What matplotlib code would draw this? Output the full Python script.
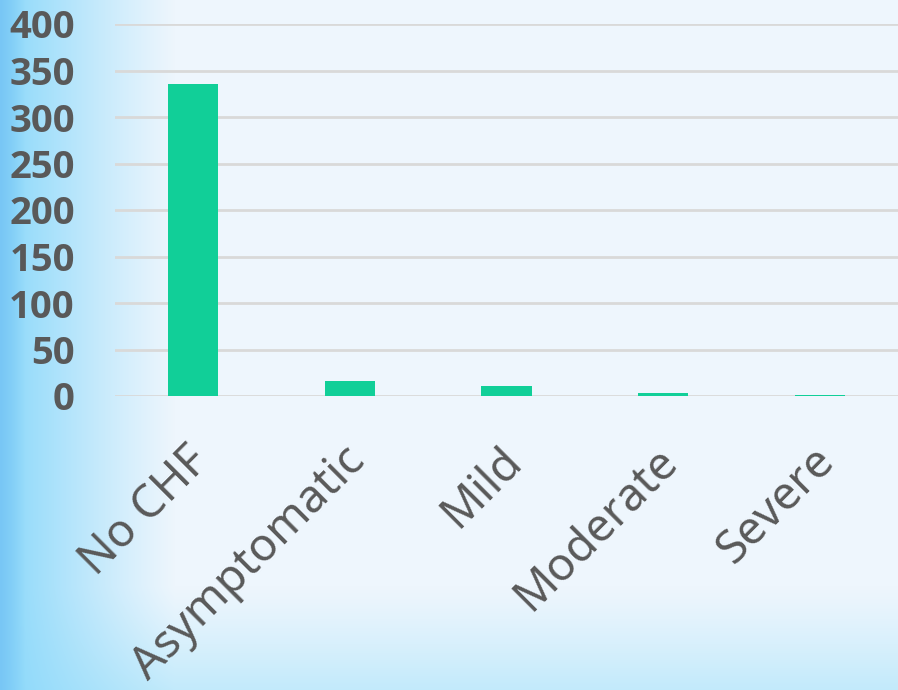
import numpy as np
import matplotlib.pyplot as plt
import matplotlib.transforms as mtransforms
from matplotlib.colors import to_rgb

plt.rcParams['font.family'] = ['Noto Sans', 'DejaVu Sans']

categories = ['No CHF', 'Asymptomatic', 'Mild', 'Moderate', 'Severe']
counts = [336, 16, 11, 3, 1]
yticks = [0, 50, 100, 150, 200, 250, 300, 350, 400]

W, H = 898, 690
fig = plt.figure(figsize=(W / 100, H / 100), dpi=100)

# background: pale blue with gradients on the left and bottom edges
base = np.array(to_rgb('#eef6fd'))
left_c = np.array(to_rgb('#8ad8fa'))
edge_c = np.array(to_rgb('#78c6f5'))
bot_c = np.array(to_rgb('#c2eafb'))
xs = np.arange(W)
ys = np.arange(H)
wl = np.clip(1 - xs / 175.0, 0, 1) ** 1.1
we = np.clip(1 - xs / 25.0, 0, 1)
wb = np.clip((ys - 585) / 105.0, 0, 1) ** 1.2
img = np.ones((H, W, 3)) * base
img = img * (1 - wb[:, None, None]) + bot_c * wb[:, None, None]
img = img * (1 - wl[None, :, None]) + left_c * wl[None, :, None]
img = img * (1 - we[None, :, None]) + edge_c * we[None, :, None]
bg = fig.add_axes([0, 0, 1, 1])
bg.imshow(img, aspect='auto')
bg.axis('off')

ax = fig.add_axes([115 / W, 1 - 396 / H, 1 - 115 / W, (396 - 24) / H])
ax.patch.set_alpha(0)
x = np.arange(len(categories))
ax.bar(x, counts, width=0.32, color='#11cf98', zorder=3)
ax.set_xlim(-0.5, len(categories) - 0.5)
ax.set_ylim(0, 400)
ax.set_yticks(yticks)
ax.set_yticklabels([str(v) for v in yticks], fontsize=27.5, fontweight='bold',
                   color='#595959', family=['Open Sans', 'DejaVu Sans'])
ax.yaxis.grid(True, color='#d9d9d9', linewidth=2, zorder=0)
ax.tick_params(axis='y', length=0, pad=29)
ax.set_xticks(x)
ax.set_xticklabels(categories, fontsize=33, color='#595959', rotation=45,
                   ha='right', va='center', rotation_mode='anchor')
ax.tick_params(axis='x', length=0, pad=42)
shift = mtransforms.ScaledTranslation(6 / 72, 0, fig.dpi_scale_trans)
for lbl in ax.get_xticklabels():
    lbl.set_transform(lbl.get_transform() + shift)
for s in ax.spines.values():
    s.set_visible(False)

fig.savefig('out.png', dpi=100)
